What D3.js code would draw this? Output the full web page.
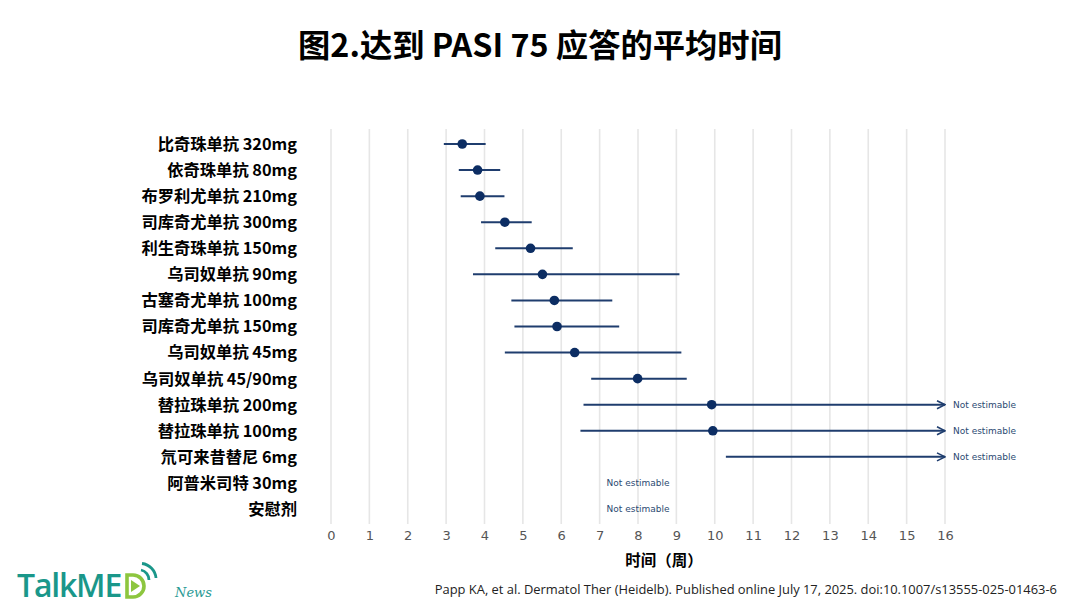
<!DOCTYPE html>
<html><head><meta charset="utf-8">
<script src="https://cdn.jsdelivr.net/npm/d3@7/dist/d3.min.js"></script>
<style>body{margin:0;background:#fff}svg{display:block}</style>
</head><body>
<svg id="c" width="1080" height="608"></svg>
<script>
const categories = ["比奇珠单抗 320mg","依奇珠单抗 80mg","布罗利尤单抗 210mg","司库奇尤单抗 300mg","利生奇珠单抗 150mg","乌司奴单抗 90mg","古塞奇尤单抗 100mg","司库奇尤单抗 150mg","乌司奴单抗 45mg","乌司奴单抗 45/90mg","替拉珠单抗 200mg","替拉珠单抗 100mg","氘可来昔替尼 6mg","阿普米司特 30mg","安慰剂"];
const medians = [3.42,3.82,3.88,4.53,5.20,5.51,5.82,5.89,6.35,7.99,9.92,9.95,null,null,null];
const lower  = [2.94,3.33,3.38,3.91,4.28,3.70,4.70,4.78,4.53,6.78,6.58,6.50,10.29,null,null];
const upper  = [4.03,4.41,4.52,5.23,6.30,9.08,7.33,7.51,9.13,9.27,null,null,null,null,null];
const xTicks = d3.range(0,17);
const noteText = "Not estimable";
const title = "图2.达到 PASI 75 应答的平均时间";
const xTitle = "时间（周）";
const citation = "Papp KA, et al. Dermatol Ther (Heidelb). Published online July 17, 2025. doi:10.1007/s13555-025-01463-6";

const svg = d3.select("#c");
const cjk = "'Noto Sans CJK SC','Noto Sans',sans-serif";
const x = d3.scaleLinear().domain([0,16]).range([331,945]);
const y = d3.scalePoint().domain(categories).range([144,509]);
const lineC = "#1f3d6e", dotC = "#0c2d63";

svg.append("text").attr("x",540).attr("y",57).attr("text-anchor","middle")
  .attr("font-family",cjk).attr("font-weight","bold").attr("font-size",32.3).attr("fill","#000").text(title);

// grid
svg.append("g").selectAll("line").data(xTicks).join("line")
  .attr("x1",d=>x(d)).attr("x2",d=>x(d)).attr("y1",129).attr("y2",524)
  .attr("stroke","#e6e6e6").attr("stroke-width",1.6);

// axis
const ax = svg.append("g").attr("transform","translate(0,527)")
  .call(d3.axisBottom(x).tickValues(xTicks).tickSize(0).tickPadding(4).tickFormat(d3.format("d")));
ax.select(".domain").remove();
ax.selectAll("text").attr("font-family","'DejaVu Sans',sans-serif").attr("font-size",13).attr("fill","#555");

svg.append("text").attr("x",664).attr("y",566).attr("text-anchor","middle")
  .attr("font-family",cjk).attr("font-weight","bold").attr("font-size",15.5).attr("fill","#000").text(xTitle);

// labels
svg.append("g").selectAll("text").data(categories).join("text")
  .attr("x",297).attr("y",d=>y(d)).attr("dy","0.36em").attr("text-anchor","end")
  .attr("font-family",cjk).attr("font-weight","bold").attr("font-size",16.3).attr("fill","#000").text(d=>d);

const defs = svg.append("defs");
defs.append("marker").attr("id","arr").attr("viewBox","0 0 10 10").attr("refX",9).attr("refY",5)
  .attr("markerWidth",5).attr("markerHeight",5).attr("orient","auto").attr("markerUnits","strokeWidth")
  .append("path").attr("d","M1,1 L9,5 L1,9").attr("fill","none").attr("stroke",lineC).attr("stroke-width",1.6);

const rows = categories.map((c,i)=>({c,m:medians[i],lo:lower[i],hi:upper[i]}));
const g = svg.append("g");
rows.forEach(r=>{
  const yy = y(r.c);
  if(r.lo!=null){
    const open = r.hi==null;
    const l = g.append("line").attr("x1",x(r.lo)).attr("x2",open?x(16):x(r.hi))
      .attr("y1",yy).attr("y2",yy).attr("stroke",lineC).attr("stroke-width",2);
    if(open){
      l.attr("marker-end","url(#arr)");
      g.append("text").attr("x",x(16)+8).attr("y",yy).attr("dy","0.35em")
        .attr("font-family","'DejaVu Sans',sans-serif").attr("font-size",9).attr("fill","#2b4a72").text(noteText);
    }
  } else {
    g.append("text").attr("x",x(8)).attr("y",yy).attr("dy","0.35em").attr("text-anchor","middle")
      .attr("font-family","'DejaVu Sans',sans-serif").attr("font-size",9).attr("fill","#2b4a72").text(noteText);
  }
  if(r.m!=null){
    g.append("circle").attr("cx",x(r.m)).attr("cy",yy).attr("r",4.8).attr("fill",dotC);
  }
});

// citation
svg.append("text").attr("x",1057).attr("y",594).attr("text-anchor","end")
  .attr("font-family","'Open Sans','Liberation Sans',sans-serif").attr("font-size",12.9).attr("fill","#222").text(citation);

// logo
const logo = svg.append("g");
logo.append("text").attr("x",17).attr("y",597).attr("font-family","'Open Sans','Liberation Sans',sans-serif")
  .attr("font-size",32).attr("font-weight",600).attr("fill","#1a978a").attr("letter-spacing",-1.2).text("TalkME");
// D letter
logo.append("path").attr("d","M127,575 L133,575 A11,11 0 0 1 133,597 L127,597 Z")
  .attr("fill","none").attr("stroke","#8dc63f").attr("stroke-width",3.6);
logo.append("path").attr("d","M131,580 L140,586 L131,592 Z").attr("fill","#8dc63f");
// wifi arcs
logo.append("path").attr("d","M141,570 A10,10 0 0 1 149,580").attr("fill","none").attr("stroke","#1a978a").attr("stroke-width",2.8);
logo.append("path").attr("d","M142,563.5 A16,16 0 0 1 156,578").attr("fill","none").attr("stroke","#1a978a").attr("stroke-width",2.8);
logo.append("text").attr("x",175).attr("y",597).attr("font-family","'DejaVu Serif',serif").attr("font-style","italic")
  .attr("font-size",13).attr("fill","#2a9a95").text("News");
</script>
</body></html>
